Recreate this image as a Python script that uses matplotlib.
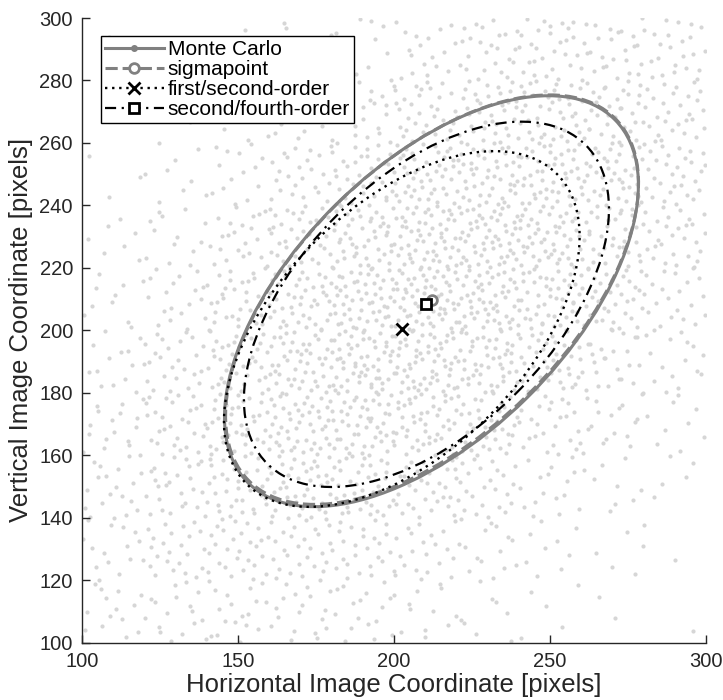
import numpy as np
import matplotlib.pyplot as plt
from matplotlib.patches import Ellipse

plt.rcParams['font.family'] = ['Liberation Sans', 'DejaVu Sans']

# Monte Carlo cloud, estimated number of samples in each 20x20 cell
cell_x = [100, 120, 140, 160, 180, 200, 220, 240, 260, 280]
cell_y = [100, 120, 140, 160, 180, 200, 220, 240, 260, 280]
cloud_counts = [
    [14, 17, 18, 18, 16, 12, 8, 5, 2, 1],
    [16, 23, 28, 29, 26, 21, 15, 9, 5, 2],
    [18, 26, 35, 39, 39, 33, 25, 16, 9, 5],
    [17, 28, 38, 47, 49, 46, 38, 26, 17, 9],
    [14, 24, 37, 48, 56, 56, 49, 38, 25, 15],
    [10, 18, 31, 44, 54, 60, 56, 47, 35, 22],
    [7, 13, 23, 35, 46, 55, 56, 51, 39, 28],
    [3, 8, 14, 24, 35, 44, 48, 47, 40, 30],
    [1, 3, 8, 14, 23, 31, 37, 38, 36, 28],
    [1, 2, 3, 8, 13, 18, 24, 28, 26, 23],
]

# estimated mean and covariance of each method
methods = ["Monte Carlo", "sigmapoint", "first/second-order", "second/fourth-order"]
mean_x = [212.0, 212.2, 202.5, 210.4]
mean_y = [209.3, 209.8, 200.4, 208.3]
var_x = [4400, 4380, 3249, 3422]
var_y = [4330, 4300, 3245, 3422]
cov_xy = [2470, 2470, 1690, 1785]

gray = (0.5, 0.5, 0.5)
dark = '#262626'
styles = [
    dict(color=gray, ls='-', lw=2.2, marker='.', ms=8, mfc=gray),
    dict(color=gray, ls=(0, (4, 1.6)), lw=2.2, marker='o', ms=7, mew=2, mfc='white'),
    dict(color='black', ls=(0, (1, 2)), lw=1.7, marker='x', ms=8, mew=2),
    dict(color='black', ls=(0, (5, 2.5, 1, 2.5)), lw=1.6, marker='s', ms=6.5, mew=2, mfc='white'),
]


def halton(i, b):
    f, r = 1.0, 0.0
    while i > 0:
        f /= b
        r += f * (i % b)
        i //= b
    return r


fig = plt.figure(figsize=(7.23, 7.0), dpi=100)
ax = fig.add_axes([82 / 723, 1 - 642.5 / 700, 624 / 723, 624.5 / 700])

# spread the counted samples over their cells
px, py = [], []
g = 37
for j, y0 in enumerate(cell_y):
    for i, x0 in enumerate(cell_x):
        for k in range(cloud_counts[j][i]):
            px.append(x0 + 20 * halton(g, 2))
            py.append(y0 + 20 * halton(g, 3))
            g += 1
ax.scatter(px, py, s=9, color=(0.84, 0.84, 0.84), linewidths=0, zorder=1)

handles = []
for n in range(len(methods)):
    cov = np.array([[var_x[n], cov_xy[n]], [cov_xy[n], var_y[n]]])
    vals, vecs = np.linalg.eigh(cov)
    ang = np.degrees(np.arctan2(vecs[1, 1], vecs[0, 1]))
    st = styles[n]
    e = Ellipse((mean_x[n], mean_y[n]), 2 * np.sqrt(vals[1]), 2 * np.sqrt(vals[0]),
                angle=ang, fill=False, edgecolor=st['color'], lw=st['lw'],
                linestyle=st['ls'], zorder=2 + n * 0.1)
    ax.add_patch(e)
    h, = ax.plot([mean_x[n]], [mean_y[n]], color=st['color'], ls=st['ls'], lw=st['lw'],
                 marker=st['marker'], ms=st['ms'], mew=st.get('mew', 1),
                 mfc=st.get('mfc', st['color']), mec=st['color'], label=methods[n], zorder=3)
    handles.append(h)

ax.set_xlim(100, 300)
ax.set_ylim(100, 300)
ax.set_xticks([100, 150, 200, 250, 300])
ax.set_yticks(np.arange(100, 301, 20))
for s in ['top', 'right']:
    ax.spines[s].set_visible(False)
for s in ['left', 'bottom']:
    ax.spines[s].set_color(dark)
    ax.spines[s].set_linewidth(1.0)
ax.tick_params(direction='in', length=5.5, width=1.0, color=dark, labelcolor=dark,
               labelsize=14.5, pad=6.5)
ax.set_xlabel('Horizontal Image Coordinate [pixels]', fontsize=18.5, color=dark, labelpad=2)
ax.set_ylabel('Vertical Image Coordinate [pixels]', fontsize=18.5, color=dark, labelpad=5)

leg = ax.legend(handles=handles, loc='upper left', bbox_to_anchor=(19 / 624, 1 - 18 / 624.5),
                fontsize=15, frameon=True, fancybox=False, framealpha=1, edgecolor='black',
                borderpad=0.2, handlelength=2.8, handletextpad=0.2, labelspacing=0.05,
                borderaxespad=0, numpoints=1)
leg.get_frame().set_linewidth(1.0)
leg.set_zorder(5)

fig.savefig('out.png', dpi=100)
